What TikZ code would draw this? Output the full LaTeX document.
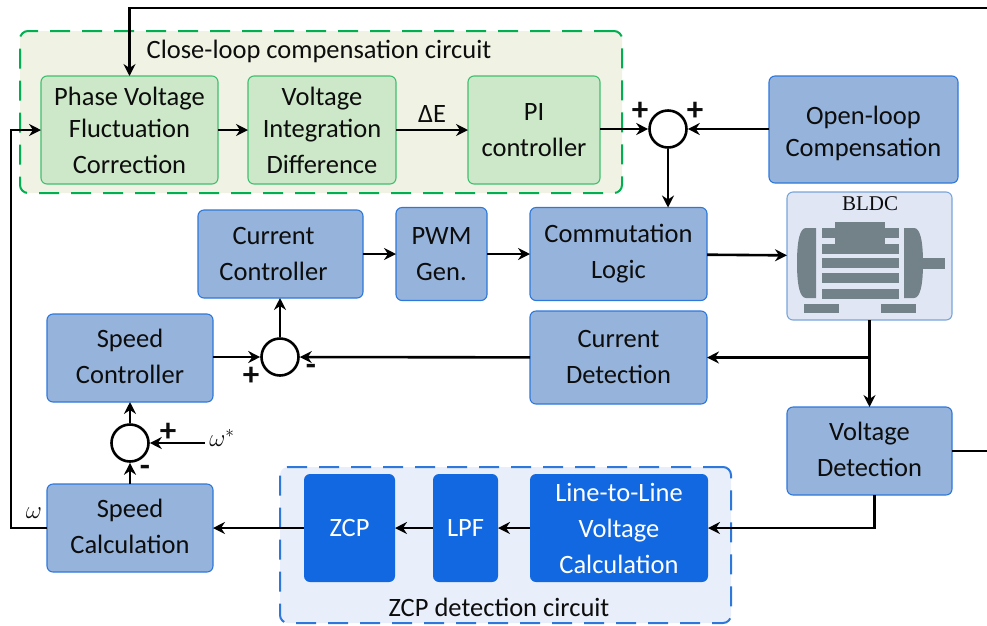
\documentclass[tikz,border=0pt]{standalone}
\usepackage{fontspec}
\setmainfont{Carlito}
\newfontfamily\bldcfont{Liberation Serif}
\usepackage{tikz}
\usetikzlibrary{positioning}
\usetikzlibrary{calc}
\usetikzlibrary{arrows.meta}
\definecolor{boxblue}{HTML}{95B3DB}
\definecolor{lineblue}{HTML}{2E78DC}
\definecolor{deepblue}{HTML}{1268E0}
\definecolor{boxgreen}{HTML}{CDE8C8}
\definecolor{linegreen}{HTML}{00B050}
\definecolor{edgegreen}{HTML}{40BF70}
\definecolor{areagreen}{HTML}{F0F3E4}
\definecolor{areablue}{HTML}{E8EEFA}
\definecolor{motorbox}{HTML}{E1E6F5}
\definecolor{motorline}{HTML}{7AA5D8}
\definecolor{motorgrey}{HTML}{738289}
\newcommand{\liftup}[1]{\rule[-#1]{0pt}{#1}}
\tikzset{
  block/.style     = { rectangle, rounded corners=6pt, inner sep=0pt, outer sep=0pt, align=center,
                       font=\fontsize{26.5}{36}\selectfont },
  blue/.style      = { block, fill=boxblue, draw=lineblue, line width=1.1pt },
  green/.style     = { block, fill=boxgreen, draw=edgegreen, line width=1.1pt },
  deep/.style      = { block, fill=deepblue, text=white },
  area/.style      = { rectangle, rounded corners=8pt, inner sep=0pt, outer sep=0pt,
                       line width=2pt, dash pattern=on 20pt off 12pt },
  summer/.style    = { circle, draw=black, line width=2.6pt, fill=white, minimum size=37pt,
                       inner sep=0pt, outer sep=1.3pt },
  sign/.style      = { font=\fontsize{33}{33}\selectfont\bfseries, inner sep=0pt },
  caption/.style   = { font=\fontsize{26.5}{30}\selectfont, inner sep=0pt },
  motor/.style     = { fill=motorgrey, draw=none },
}
\begin{document}
\begin{tikzpicture}[
  x=1pt,y=-1pt,
  >={Stealth[length=12pt,width=12pt,inset=4pt]},line width=2.6pt,
  every node/.append style={text=black!95}
]
  \useasboundingbox (0,0) rectangle (987,625);

  % dashed regions
  \node (closearea) [area,fill=areagreen,draw=linegreen,minimum width=602pt,minimum height=162pt] at (321,112) {};
  \node (zcparea)   [area,fill=areablue,draw=lineblue,minimum width=451pt,minimum height=156pt]   at (505.5,545) {};
  \node (closetext) [caption] at (319,51)  {Close-loop compensation circuit};
  \node (zcptext)   [caption] at (499,607) {ZCP detection circuit};

  % top row
  \node (phase) [green,minimum width=177pt,minimum height=108pt] at (129.5,130) {Phase Voltage\\[-4pt]Fluctuation\\Correction};
  \node (vint)  [green,minimum width=148pt,minimum height=108pt,right=30pt of phase] {Voltage\\[-4pt]Integration\\Difference};
  \node (pictl) [green,minimum width=132pt,minimum height=108pt,right=72pt of vint]  {PI\\controller};
  \node (sumtop) [summer] at (668,129) {};
  \node (open)  [blue,minimum width=189pt,minimum height=107pt,font=\fontsize{26.5}{32}\selectfont] at (863.5,129.5) {\rule{0pt}{26pt}Open-loop\\Compensation};

  % middle rows
  \node (curctl) [blue,minimum width=165pt,minimum height=88pt] at (280.5,254) {Current\hspace*{14pt}\\Controller\hspace*{14pt}};
  \node (pwm)    [blue,minimum width=91pt,minimum height=93pt,right=33pt of curctl] {PWM\\Gen.};
  \node (comm)   [blue,minimum width=177pt,minimum height=93pt,right=43pt of pwm]   {Commutation\\Logic};
  \node (curdet) [blue,minimum width=177pt,minimum height=93pt] at (618.5,357.5) {Current\\Detection\liftup{2pt}};
  \node (bldc)   [block,fill=motorbox,draw=motorline,line width=1.1pt,minimum width=165pt,minimum height=128pt] at (869.5,256) {};
  \node (bldctext) [font=\bldcfont\fontsize{21}{24}\selectfont,inner sep=0pt] at (870,204) {BLDC};
  \node (spdctl) [blue,minimum width=166pt,minimum height=88pt] at (130,358) {Speed\\Controller\liftup{4pt}};
  \node (sumcur) [summer] at (280,357) {};
  \node (sumspd) [summer] at (130,443) {};

  % motor
  \fill [motor] (797,263) .. controls (797,240) and (800,228) .. (806,228) -- (816,228) -- (816,298) -- (806,298) .. controls (800,298) and (797,286) .. (797,263) -- cycle;
  \fill [motor] (923,263) .. controls (923,240) and (920,228) .. (914,228) -- (904,228) -- (904,298) -- (914,298) .. controls (920,298) and (923,286) .. (923,263) -- cycle;
  \fill [motor] (835,222) rectangle (885,244);
  \fill [motor] (822,228) rectangle (899,238);
  \fill [motor] (822,244) rectangle (899,254);
  \fill [motor] (822,258) rectangle (899,268);
  \fill [motor] (822,273) rectangle (899,283);
  \fill [motor] (822,289) rectangle (899,299);
  \fill [motor] (923,258) rectangle (945,269);
  \fill [motor] (804,304) rectangle (839,313);
  \fill [motor] (881,304) rectangle (916,313);

  % bottom rows
  \node (voltdet) [blue,minimum width=165pt,minimum height=88pt] at (869.5,451) {Voltage\\Detection\liftup{4pt}};
  \node (lline)   [deep,minimum width=178pt,minimum height=108pt] at (619,528) {Line-to-Line\\Voltage\\Calculation};
  \node (lpf)     [deep,minimum width=65pt,minimum height=108pt,left=32pt of lline] {LPF};
  \node (zcp)     [deep,minimum width=91pt,minimum height=108pt,left=38pt of lpf]   {ZCP};
  \node (spdcalc) [blue,minimum width=166pt,minimum height=88pt] at (130,528) {Speed\\Calculation\liftup{4pt}};

  % free ends
  \coordinate (topend)  at (987,8);
  \coordinate (voltend) at (987,451);
  \coordinate (fback)   at (11,528);
  \coordinate (wstart)  at (205,443);
  \coordinate (branch)  at (bldc.south |- curdet.east);

  % signs and labels
  \node (dE)     [caption] at (432,114) {ΔE};
  \node (plusa)  [sign] at (640,111) {+};
  \node (plusb)  [sign] at (695,111) {+};
  \node (plusc)  [sign] at (251,376) {+};
  \node (minusc) [sign] at (311,370) {-};
  \node (plusd)  [sign] at (168,432) {+};
  \node (minusd) [sign] at (145,471) {-};
  \node (wfb)    [font=\fontsize{27}{30}\selectfont,inner sep=0pt] at (34,513) {$\omega$};
  \node (wref)   [font=\fontsize{27}{30}\selectfont,inner sep=0pt,anchor=west] at (208,438) {$\omega^{*}$};

  % connectors
  \draw [->] (topend) -| (phase.north);
  \draw [->] (spdcalc.west) -- (fback) |- (phase.west);
  \draw [->] (phase) -- (vint);
  \draw [->] (vint) -- (pictl);
  \draw [->] (pictl.east |- sumtop) -- (sumtop);
  \draw [->] (open.west |- sumtop) -- (sumtop);
  \draw [->] (sumtop) -- (sumtop |- comm.north);
  \draw [->] (curctl) -- (pwm);
  \draw [->] (pwm) -- (comm);
  \draw [->] (comm) -- (bldc);
  \draw [->] (bldc.south) -- (voltdet.north);
  \draw [->] (branch) -- (curdet.east);
  \draw [->] (curdet) -- (sumcur);
  \draw [->] (spdctl.east |- sumcur) -- (sumcur);
  \draw [->] (sumcur) -- (sumcur |- curctl.south);
  \draw [->] (sumspd) -- (spdctl);
  \draw [->] (spdcalc) -- (sumspd);
  \draw [->] (wstart) -- (sumspd);
  \draw (voltdet.east) -- (voltend);
  \draw [->] ([xshift=5pt]voltdet.south) |- (lline.east);
  \draw [->] (lline) -- (lpf);
  \draw [->] (lpf) -- (zcp);
  \draw [->] (zcp) -- (spdcalc);

\end{tikzpicture}
\end{document}
